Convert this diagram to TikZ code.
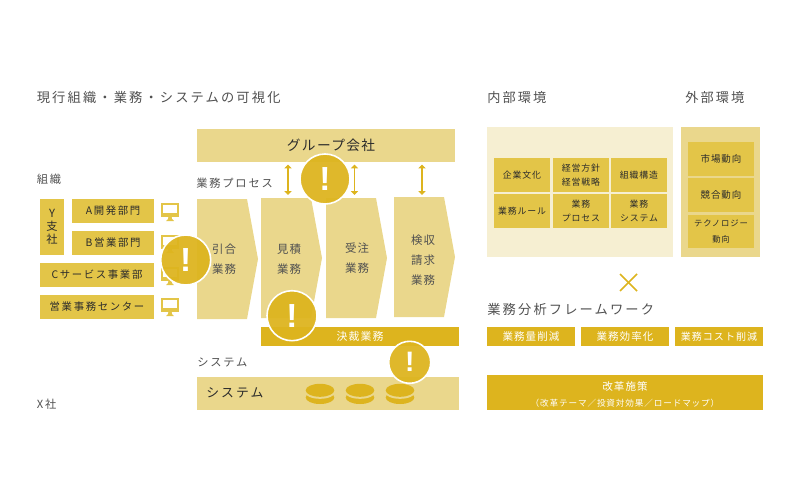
\documentclass[tikz,border=0pt]{standalone}
\usepackage{fontspec}
\usepackage{xcolor}
\usetikzlibrary{arrows.meta}
\setmainfont{Noto Sans CJK JP}
\newfontfamily\jpwide[LetterSpace=16]{Noto Sans CJK JP}
\newfontfamily\jpmid[LetterSpace=10]{Noto Sans CJK JP}
\newfontfamily\markfont[Scale=1]{Liberation Sans}
\definecolor{gold}{HTML}{DDB41E}
\definecolor{mustard}{HTML}{E3C548}
\definecolor{sand}{HTML}{EAD78C}
\definecolor{cream}{HTML}{F6EFD2}
\definecolor{ink}{HTML}{2B2B2B}
\definecolor{muted}{HTML}{505050}
\def\u{0.02cm}
\tikzset{
  lbl/.style={anchor=west,inner sep=0pt,text=muted,font=\jpwide\fontsize{7.55}{10}\selectfont},
  hdr/.style={lbl,font=\jpwide\fontsize{6.4}{10}\selectfont},
  panelhdr/.style={lbl,font=\jpwide\fontsize{7.5}{10}\selectfont},
  tag/.style={fill=mustard,inner sep=0pt,text=ink,align=center,font=\jpwide\fontsize{5.9}{7.5}\selectfont},
  cell/.style={tag,minimum width=56*\u,minimum height=34*\u,font=\jpmid\fontsize{5.05}{8.2}\selectfont},
  outcell/.style={cell,minimum width=66*\u,font=\jpmid\fontsize{5.4}{9.8}\selectfont},
  whitetag/.style={fill=gold,inner sep=0pt,text=white,align=center,font=\jpmid\fontsize{6}{8}\selectfont},
  prolbl/.style={inner sep=0pt,text=muted,align=center,font=\jpmid\fontsize{6.5}{11.4}\selectfont},
  alert/.style={circle,fill=gold,draw=white,line width=1.6*\u,fill opacity=.94,draw opacity=1,text opacity=1,inner sep=0pt,text=white,font=\markfont\bfseries\fontsize{#1}{#1}\selectfont},
  dblarrow/.style={{Triangle[length=2.2pt,width=4pt]}-{Triangle[length=2.2pt,width=4pt]},line width=1.4*\u,color=gold},
}
\begin{document}
\begin{tikzpicture}[x=0.02cm,y=-0.02cm]
  \useasboundingbox (0,0) rectangle (800,500);
  % left column
  \node[lbl] (title) at (36.5,97) {現行組織・業務・システムの可視化};
  \node[hdr] (orgLabel) at (36.5,179) {組織};
  \node[hdr] (xLabel) at (36.5,404) {X社};
  \node[tag,minimum width=24*\u,minimum height=56*\u,font=\jpmid\fontsize{6.4}{7.4}\selectfont] (branchY) at (52,227) {Y\\支\\社};
  \foreach \n/\cx/\cy/\w/\t in {deptA/113/211/82/A開発部門,deptB/113/243/82/B営業部門,deptC/97/275/114/Cサービス事業部,deptD/97/307/114/営業事務センター}
    \node[tag,minimum width=\w*\u,minimum height=24*\u] (\n) at (\cx,\cy) {\t};
  % monitors
  \foreach \y in {203,235,267,298} {
    \fill[mustard] (161,\y) rectangle (179,\y+13.5);
    \fill[white] (162.7,\y+1.7) rectangle (177.3,\y+10);
    \fill[mustard] (168.5,\y+13) -- (171.5,\y+13) -- (172,\y+16) -- (174,\y+18) -- (166,\y+18) -- (168,\y+16) -- cycle;
  }
  % process
  \node[whitetag,fill=sand,text=ink,minimum width=258*\u,minimum height=33*\u,font=\jpmid\fontsize{7.8}{10}\selectfont] (group) at (326,145.5) {\hspace*{5.7pt}グループ会社};
  \node[hdr] (procLabel) at (196,183) {業務プロセス};
  \foreach \x/\t/\f/\p/\b in {197/199/247/258/319,261/198/311/322/318,326/198/376/387/318,394/197/444/455/317}
    \fill[sand] (\x,\t) -- (\f,\t) -- (\p,{(\t+\b)/2}) -- (\f,\b) -- (\x,\b) -- cycle;
  \node[prolbl] (inquiry) at (224,259) {引合\\業務};
  \node[prolbl] (estimate) at (289,259) {見積\\業務};
  \node[prolbl] (order) at (357,258) {受注\\業務};
  \node[prolbl] (billing) at (423,260) {検収\\請求\\業務};
  \foreach \n/\x in {A/288,B/354.5,C/422} {
    \coordinate (arrow\n top) at (\x,164.5);
    \coordinate (arrow\n bot) at (\x,195);
    \draw[dblarrow] (arrow\n top) -- (arrow\n bot);
  }
  \node[whitetag,minimum width=198*\u,minimum height=19*\u,font=\jpmid\fontsize{6.2}{8}\selectfont] (settle) at (360,336.5) {決裁業務};
  % system
  \node[hdr] (sysLabel) at (197,362) {システム};
  \node[fill=sand,minimum width=262*\u,minimum height=33*\u,inner sep=0pt] (sysBox) at (328,393.5) {};
  \node[lbl,text=ink,font=\jpwide\fontsize{7.3}{10}\selectfont] (sysName) at (206,393) {システム};
  \foreach \x in {320,360,400} {
    \fill[gold] (\x,397.5) ellipse (14.3 and 6.5);
    \fill[sand] (\x,392.3) ellipse (15 and 6.5);
    \fill[gold] (\x,390.3) ellipse (14.3 and 6.5);
  }
  % alerts
  \node[alert=19,minimum size=50*\u] (alertA) at (185.7,260) {!};
  \node[alert=19,minimum size=50*\u] (alertB) at (325,179) {!};
  \node[alert=19,minimum size=50*\u] (alertC) at (292,315.7) {!};
  \node[alert=16,minimum size=42*\u] (alertD) at (409.7,362.3) {!};
  % right column
  \node[panelhdr] (innerLabel) at (487,97.5) {内部環境};
  \node[panelhdr] (outerLabel) at (685,97) {外部環境};
  \node[fill=cream,minimum width=186*\u,minimum height=130*\u,inner sep=0pt] (innerBox) at (580,192) {};
  \node[fill=sand,minimum width=79*\u,minimum height=130*\u,inner sep=0pt] (outerBox) at (720.5,192) {};
  \foreach \n/\cx/\cy/\t in {c1/522/175/企業文化,c2/581/175/{経営方針\\経営戦略},c3/639/175/組織構造,c4/522/211/業務ルール,c5/581/211/{業務\\プロセス},c6/639/211/{業務\\システム}}
    \node[cell] (\n) at (\cx,\cy) {\t};
  \node[outcell] (market) at (721,159) {市場動向};
  \node[outcell] (rival) at (721,195) {競合動向};
  \node[outcell,minimum height=33*\u,font=\jpmid\fontsize{4.75}{8.6}\selectfont] (tech) at (721,231.5) {テクノロジー\\動向};
  \coordinate (crossA) at (620,274);
  \coordinate (crossB) at (637,291);
  \coordinate (crossC) at (637,274);
  \coordinate (crossD) at (620,291);
  \draw[gold,line width=1.5*\u] (crossA) -- (crossB);
  \draw[gold,line width=1.5*\u] (crossC) -- (crossD);
  \node[lbl] (frame) at (487,309) {業務分析フレームワーク};
  \foreach \n/\cx/\t in {f1/531/業務量削減,f2/625/業務効率化}
    \node[whitetag,minimum width=88*\u,minimum height=19*\u] (\n) at (\cx,336.5) {\t};
  \node[whitetag,minimum width=88*\u,minimum height=19*\u,font=\jpmid\fontsize{5.7}{8}\selectfont] (f3) at (719,336.5) {業務コスト削減};
  \node[whitetag,minimum width=276*\u,minimum height=35*\u,font=\jpmid\fontsize{6}{9.2}\selectfont] (reform) at (625,392.5) {\rule{0pt}{7pt}改革施策\\{\fontsize{4.9}{7}\selectfont （改革テーマ／投資対効果／ロードマップ）}};
\end{tikzpicture}
\end{document}
